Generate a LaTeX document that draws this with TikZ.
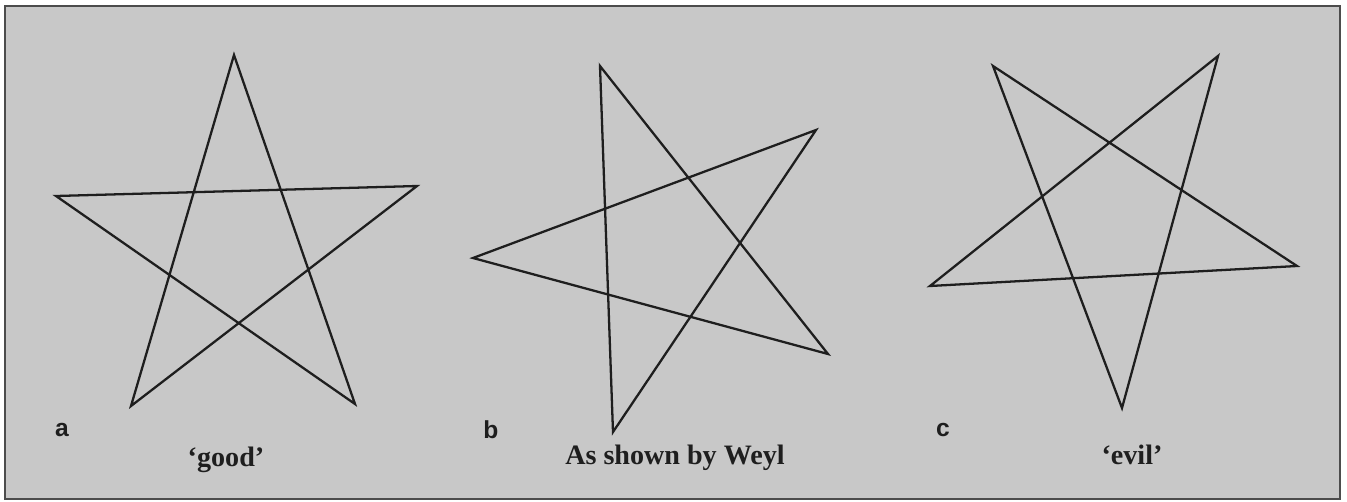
\documentclass[tikz,border=0pt]{standalone}
\usepackage{fontspec}
\setmainfont{Liberation Serif}
\setsansfont{Liberation Sans}
\usepackage{xcolor}
\usetikzlibrary{positioning}

\definecolor{paper}{RGB}{200,200,200}
\definecolor{ink}{RGB}{30,30,30}

\begin{document}
\begin{tikzpicture}[
    x=0.02cm, y=-0.02cm,
    starline/.style={draw=ink, line width=1.3pt, line join=miter},
    tag/.style={font=\sffamily\bfseries\fontsize{14}{16}\selectfont, text=ink},
    caption/.style={font=\bfseries\fontsize{16}{18}\selectfont, text=ink}
]
    \useasboundingbox (0,0) rectangle (1347,501);
    \draw [fill=paper, draw=black!70, line width=1.2pt] (5,6) rectangle (1340,499);

    % Star a: 'good'
    \coordinate (a1) at (234,55);
    \coordinate (a2) at (417,186);
    \coordinate (a3) at (56,196);
    \coordinate (a4) at (131,406);
    \coordinate (a5) at (355,404);
    \path [starline] (a1) -- (a4) -- (a2) -- (a3) -- (a5) -- cycle;

    % Star b: Weyl
    \coordinate (b1) at (600,66);
    \coordinate (b2) at (816,130);
    \coordinate (b3) at (473,258);
    \coordinate (b4) at (828,354);
    \coordinate (b5) at (613,432);
    \path [starline] (b1) -- (b4) -- (b3) -- (b2) -- (b5) -- cycle;

    % Star c: 'evil'
    \coordinate (c1) at (993,66);
    \coordinate (c2) at (1218,56);
    \coordinate (c3) at (930,286);
    \coordinate (c4) at (1297,266);
    \coordinate (c5) at (1122,408);
    \path [starline] (c1) -- (c4) -- (c3) -- (c2) -- (c5) -- cycle;

    % Labels
    \node [tag] (taga) at (62,430) {a};
    \node [tag] (tagb) at (491,430) {b};
    \node [tag] (tagc) at (943,430) {c};
    \node [caption] (capa) at (226,460) {‘good’};
    \node [caption] (capb) at (675,458) {As shown by Weyl};
    \node [caption] (capc) at (1132,455) {‘evil’};

\end{tikzpicture}
\end{document}
